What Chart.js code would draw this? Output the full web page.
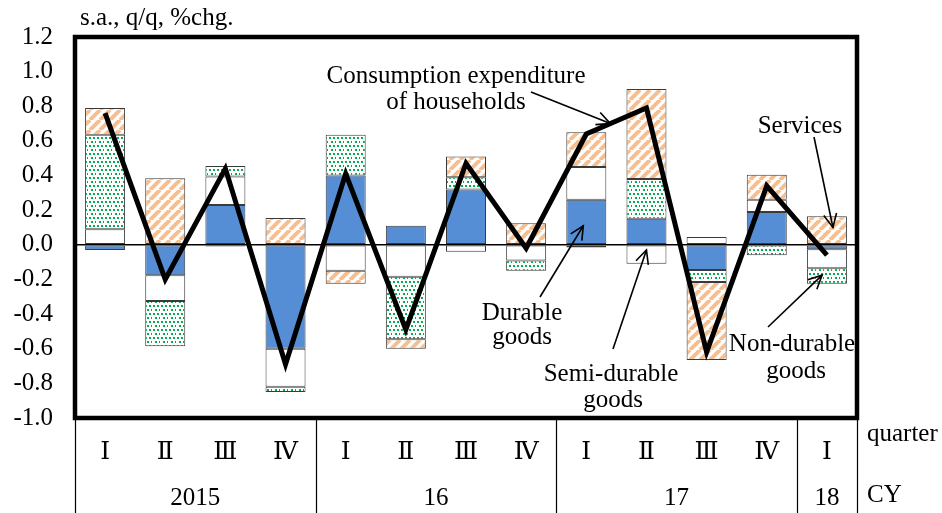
<!DOCTYPE html>
<html>
<head>
<meta charset="utf-8">
<script src="https://cdn.jsdelivr.net/npm/chart.js@4.4.1/dist/chart.umd.min.js"></script>
<style>
  html, body { margin: 0; padding: 0; background: #fff; }
  #wrap { width: 942px; height: 513px; position: relative; }
</style>
</head>
<body>
<div id="wrap"><canvas id="c" width="942" height="513"></canvas></div>
<script>
// Quarter labels and calendar-year groups
const quarters = ['Ⅰ', 'Ⅱ', 'Ⅲ', 'Ⅳ', 'Ⅰ', 'Ⅱ', 'Ⅲ', 'Ⅳ', 'Ⅰ', 'Ⅱ', 'Ⅲ', 'Ⅳ', 'Ⅰ'];
const years = ['2015', '16', '17', '18'];
const yearSpans = [4, 4, 4, 1];

// Contributions to household consumption (s.a., q/q, % chg.)
const durable     = [-0.03, -0.175, 0.23, -0.60, 0.40, 0.11, 0.32, 0.00, 0.26, 0.15, -0.145, 0.19, -0.025];
const semiDurable = [0.09, -0.15, 0.165, -0.22, -0.15, -0.185, -0.04, -0.09, 0.19, -0.11, 0.045, 0.07, -0.11];
const nonDurable  = [0.545, -0.26, 0.06, -0.03, 0.235, -0.36, 0.07, -0.06, -0.015, 0.23, -0.07, -0.06, -0.09];
const services    = [0.155, 0.385, -0.01, 0.155, -0.075, -0.055, 0.12, 0.125, 0.20, 0.52, -0.45, 0.145, 0.165];
const consumption = [0.76, -0.20, 0.44, -0.69, 0.41, -0.49, 0.47, -0.02, 0.64, 0.79, -0.62, 0.34, -0.06];

// Y axis range and step
const yMin = -1.0, yMax = 1.2, yStep = 0.2;

const SERIF = '"Liberation Serif", "DejaVu Serif", serif';
const FONT_PX = 25;

const canvas = document.getElementById('c');
const ctx = canvas.getContext('2d');

// Light orange wide upward-diagonal hatch
function stripePattern() {
  const p = 10;
  const c = document.createElement('canvas');
  c.width = p; c.height = p;
  const g = c.getContext('2d');
  g.fillStyle = '#fff';
  g.fillRect(0, 0, p, p);
  g.strokeStyle = '#F9BE8E';
  g.lineWidth = 4;
  g.beginPath();
  for (let k = -1; k <= 1; k++) {
    g.moveTo(k * p, p);
    g.lineTo(k * p + p, 0);
  }
  g.stroke();
  return ctx.createPattern(c, 'repeat');
}

// Green dotted fill
function dotPattern() {
  const p = 8;
  const c = document.createElement('canvas');
  c.width = p; c.height = p;
  const g = c.getContext('2d');
  g.fillStyle = '#fff';
  g.fillRect(0, 0, p, p);
  g.fillStyle = '#00B050';
  [[1, 1], [5, 1], [3, 5], [7, 5]].forEach(([x, y]) => g.fillRect(x, y, 2, 2));
  return ctx.createPattern(c, 'repeat');
}

const barCommon = {
  type: 'bar',
  borderColor: '#3a3a3a',
  borderWidth: 1,
  borderSkipped: false,
  barPercentage: 0.665,
  categoryPercentage: 1.0,
  stack: 'c',
  order: 1
};

// Frame, category table, unit label and annotation arrows
const decorations = {
  id: 'decorations',
  afterDraw(chart) {
    const g = chart.ctx;
    const a = chart.chartArea;
    const xs = chart.scales.x;
    const ys = chart.scales.y;
    const catW = (xs.getPixelForValue(1) - xs.getPixelForValue(0));

    g.save();
    // thick plot frame
    g.strokeStyle = '#000';
    g.lineWidth = 4.5;
    g.strokeRect(a.left, a.top, a.right - a.left, a.bottom - a.top);

    // category table separators and year labels
    g.lineWidth = 1.2;
    g.font = FONT_PX + 'px ' + SERIF;
    g.fillStyle = '#000';
    g.textAlign = 'center';
    g.textBaseline = 'alphabetic';
    let idx = 0;
    const bounds = [a.left];
    years.forEach((yr, i) => {
      const first = idx, last = idx + yearSpans[i] - 1;
      const cx = (xs.getPixelForValue(first) + xs.getPixelForValue(last)) / 2;
      g.fillText(yr, cx, 505);
      bounds.push(xs.getPixelForValue(last) + catW / 2);
      idx += yearSpans[i];
    });
    g.beginPath();
    bounds.forEach(bx => {
      const x = Math.round(bx) + 0.5;
      g.moveTo(x, a.bottom);
      g.lineTo(x, chart.height);
    });
    g.stroke();

    g.textAlign = 'left';
    g.fillText('quarter', 867, 441);
    g.fillText('CY', 867, 502);
    g.fillText('s.a., q/q, %chg.', 80, 25);

    // annotation labels
    g.textAlign = 'center';
    const labels = [
      ['Consumption expenditure', 456, 83],
      ['of households', 456, 109],
      ['Services', 800, 133],
      ['Durable', 522, 320],
      ['goods', 522, 344],
      ['Semi-durable', 611, 381],
      ['goods', 613, 407],
      ['Non-durable', 792, 351],
      ['goods', 796, 378]
    ];
    labels.forEach(([t, x, y]) => g.fillText(t, x, y));

    // arrows: tail in pixels, head at a point on the data scales
    function arrow(x0, y0, xv, yv, head) {
      const x1 = xs.getPixelForValue(xv);
      const y1 = ys.getPixelForValue(yv);
      g.lineWidth = 1.6;
      g.beginPath();
      g.moveTo(x0, y0);
      g.lineTo(x1, y1);
      g.stroke();
      if (head) {
        const ang = Math.atan2(y1 - y0, x1 - x0);
        const L = 15, spread = Math.PI / 7;
        g.beginPath();
        g.moveTo(x1 - L * Math.cos(ang - spread), y1 - L * Math.sin(ang - spread));
        g.lineTo(x1, y1);
        g.lineTo(x1 - L * Math.cos(ang + spread), y1 - L * Math.sin(ang + spread));
        g.stroke();
      }
    }
    arrow(531, 92, 8.4, 0.70, true);     // consumption line
    arrow(814, 137, 12.1, 0.10, true);   // services
    arrow(540, 297, 7.95, 0.11, true);   // durable
    arrow(613, 349, 9.0, -0.03, true);   // semi-durable
    arrow(768, 327, 11.92, -0.175, true);// non-durable
    g.restore();
  }
};

new Chart(ctx, {
  type: 'bar',
  data: {
    labels: quarters,
    datasets: [
      Object.assign({}, barCommon, { label: 'Durable goods', data: durable, backgroundColor: '#558ED5' }),
      Object.assign({}, barCommon, { label: 'Semi-durable goods', data: semiDurable, backgroundColor: '#FFFFFF' }),
      Object.assign({}, barCommon, { label: 'Non-durable goods', data: nonDurable, backgroundColor: dotPattern() }),
      Object.assign({}, barCommon, { label: 'Services', data: services, backgroundColor: stripePattern() }),
      {
        type: 'line',
        label: 'Consumption expenditure of households',
        data: consumption,
        borderColor: '#000',
        borderWidth: 5,
        pointRadius: 0,
        tension: 0,
        fill: false,
        order: 0
      }
    ]
  },
  options: {
    responsive: false,
    animation: false,
    devicePixelRatio: 1,
    layout: { padding: { top: 36, right: 85, bottom: 0, left: 0 } },
    plugins: {
      legend: { display: false },
      tooltip: { enabled: false },
      title: { display: false }
    },
    scales: {
      x: {
        stacked: true,
        grid: { display: false, drawTicks: false },
        border: { display: false },
        ticks: {
          color: '#000',
          font: { family: SERIF, size: FONT_PX },
          padding: 19,
          maxRotation: 0,
          autoSkip: false
        },
        afterFit(scale) { scale.height = 95; }
      },
      y: {
        stacked: true,
        min: yMin,
        max: yMax,
        border: { display: false },
        grid: {
          drawTicks: false,
          lineWidth: 1.5,
          color: (c) => (c.tick && Math.abs(c.tick.value) < 1e-9) ? '#000' : 'rgba(0,0,0,0)'
        },
        ticks: {
          stepSize: yStep,
          color: '#000',
          padding: 22,
          font: { family: SERIF, size: FONT_PX },
          callback: (v) => (Math.abs(v) < 1e-9 ? 0 : v).toFixed(1)
        },
        afterFit(scale) { scale.width = 75; }
      }
    }
  },
  plugins: [decorations]
});
</script>
</body>
</html>
